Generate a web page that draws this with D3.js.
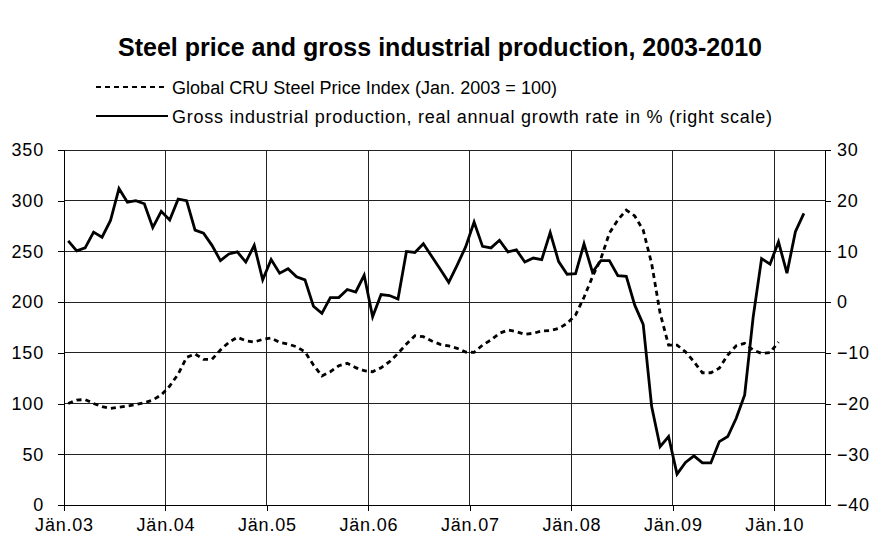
<!DOCTYPE html>
<html>
<head>
<meta charset="utf-8">
<script src="https://cdn.jsdelivr.net/npm/d3@7"></script>
<style>
  html, body { margin: 0; padding: 0; background: #fff; }
  svg { display: block; }
  text { font-family: "Liberation Sans", Arial, sans-serif; fill: #000; }
</style>
</head>
<body>
<svg id="chart" width="874" height="539"></svg>
<script>
// ---- Data ----
const title = "Steel price and gross industrial production, 2003-2010";
const seriesNames = [
  "Global CRU Steel Price Index (Jan. 2003 = 100)",
  "Gross industrial production, real annual growth rate in % (right scale)"
];
const xTickLabels = ["Jän.03", "Jän.04", "Jän.05", "Jän.06", "Jän.07", "Jän.08", "Jän.09", "Jän.10"];
const leftTicks = [0, 50, 100, 150, 200, 250, 300, 350];
const rightTicks = [-40, -30, -20, -10, 0, 10, 20, 30];

// Monthly, starting Jan 2003
const steelPrice = [
  100, 103.5, 104, 100, 97, 95.3, 96.3, 97.6, 99.2, 100.9, 103.5, 108.5,
  117.3, 129, 145.6, 148.9, 143.6, 143.6, 152.8, 160.4, 165.3, 162, 160.7, 163.3,
  164.6, 160.4, 158.7, 156, 151, 138, 127.2, 131.4, 137.3, 139.7, 135.4, 132.4,
  131.4, 135.4, 141.3, 149.5, 158.7, 166.9, 165.9, 161.7, 158.4, 156.8, 154.5, 150.8,
  150.5, 157.7, 162.7, 169.3, 172.5, 170.9, 168.3, 169.3, 171.5, 172, 174, 179,
  187.3, 204.8, 225, 243, 268, 281, 290.8, 285, 271, 238, 189, 157.7,
  157.7, 151, 141.3, 130.4, 130.4, 134.8, 147.9, 157, 159.4, 152.8, 149.5, 150.2,
  160.7
];
const productionGrowth = [
  12.1, 10.1, 10.7, 13.8, 12.8, 16.1, 22.4, 19.7, 20.0, 19.4, 14.7, 17.9,
  16.2, 20.3, 20.0, 14.2, 13.6, 11.2, 8.2, 9.5, 9.9, 7.9, 11.2, 4.4,
  8.4, 5.7, 6.6, 5.0, 4.4, -0.8, -2.2, 0.9, 0.9, 2.5, 2.0, 5.3,
  -2.9, 1.5, 1.3, 0.6, 10.0, 9.8, 11.5, 9.0, 6.5, 3.9, 7.3, 10.9,
  15.8, 11.0, 10.7, 12.2, 9.9, 10.3, 7.9, 8.7, 8.4, 13.7, 8.0, 5.5,
  5.6, 11.5, 5.9, 8.2, 8.2, 5.2, 5.1, -0.6, -4.4, -20.6, -28.5, -26.5,
  -33.9, -31.6, -30.3, -31.7, -31.7, -27.5, -26.5, -22.9, -18.3, -3.0, 8.6, 7.5,
  11.9, 5.7, 13.9, 17.5
];

// ---- Layout ----
const svg = d3.select("#chart");
const L = 64, R = 825, T = 150, B = 505;
const nMonths = 90;

const x = d3.scaleLinear().domain([0, nMonths]).range([L, R]);
const yL = d3.scaleLinear().domain([0, 350]).range([B, T]);
const yR = d3.scaleLinear().domain([-40, 30]).range([B, T]);

// Title
svg.append("text")
  .attr("x", 440).attr("y", 56)
  .attr("text-anchor", "middle")
  .attr("textLength", 644).attr("lengthAdjust", "spacing")
  .style("font-size", "25px").style("font-weight", "bold")
  .text(title);

// Gridlines
const grid = svg.append("g").attr("stroke", "#222").attr("stroke-width", 1).attr("shape-rendering", "crispEdges");
leftTicks.forEach(v => {
  grid.append("line").attr("x1", L).attr("x2", R).attr("y1", yL(v)).attr("y2", yL(v));
});
d3.range(0, 85, 12).forEach(m => {
  grid.append("line").attr("x1", x(m)).attr("x2", x(m)).attr("y1", T).attr("y2", B);
});

// Axes
const fontSize = "18px";
const axL = svg.append("g").attr("transform", `translate(${L},0)`)
  .call(d3.axisLeft(yL).tickValues(leftTicks).tickSize(6).tickPadding(14).tickFormat(d3.format("d")));
const axR = svg.append("g").attr("transform", `translate(${R},0)`)
  .call(d3.axisRight(yR).tickValues(rightTicks).tickSize(6).tickPadding(6).tickFormat(d3.format("d")));
const axB = svg.append("g").attr("transform", `translate(0,${B})`)
  .call(d3.axisBottom(x).tickValues(d3.range(0, 85, 12)).tickSize(6).tickPadding(7)
    .tickFormat((d, i) => xTickLabels[i]));
[axL, axR, axB].forEach(a => {
  a.attr("font-family", null).attr("font-size", null);
  a.selectAll("path.domain").attr("stroke", "#000").attr("stroke-width", 1).attr("shape-rendering", "crispEdges");
  a.selectAll(".tick line").attr("stroke", "#000").attr("shape-rendering", "crispEdges");
  a.selectAll("text").style("font-size", fontSize)
    .style("font-family", '"Liberation Sans", Arial, sans-serif')
    .style("letter-spacing", "0.8px").attr("fill", "#000");
});
axL.select("path.domain").attr("d", `M0,${T}V${B}`);
axR.select("path.domain").attr("d", `M0,${T}V${B}`);
axB.select("path.domain").attr("d", `M${L},0H${R}`);

// Lines
const lineSteel = d3.line().x((d, i) => x(i + 0.5)).y(d => yL(d));
const lineProd = d3.line().x((d, i) => x(i + 0.5)).y(d => yR(d));

svg.append("path").datum(steelPrice)
  .attr("d", lineSteel).attr("fill", "none").attr("stroke", "#000")
  .attr("stroke-width", 2.8).attr("stroke-dasharray", "5,4");
svg.append("path").datum(productionGrowth)
  .attr("d", lineProd).attr("fill", "none").attr("stroke", "#000")
  .attr("stroke-width", 2.8).attr("stroke-linejoin", "miter");

// Legend
const legend = svg.append("g");
const legRows = [{y: 87, dash: "5,4", len: 385}, {y: 116, dash: null, len: 600}];
legRows.forEach((r, i) => {
  const ln = legend.append("line").attr("x1", 96).attr("x2", 168).attr("y1", r.y).attr("y2", r.y)
    .attr("stroke", "#000").attr("stroke-width", 2);
  if (r.dash) ln.attr("stroke-dasharray", r.dash);
  legend.append("text").attr("x", 172).attr("y", r.y + 6.5)
    .attr("textLength", r.len).attr("lengthAdjust", "spacing")
    .style("font-size", "18px").text(seriesNames[i]);
});
</script>
</body>
</html>
